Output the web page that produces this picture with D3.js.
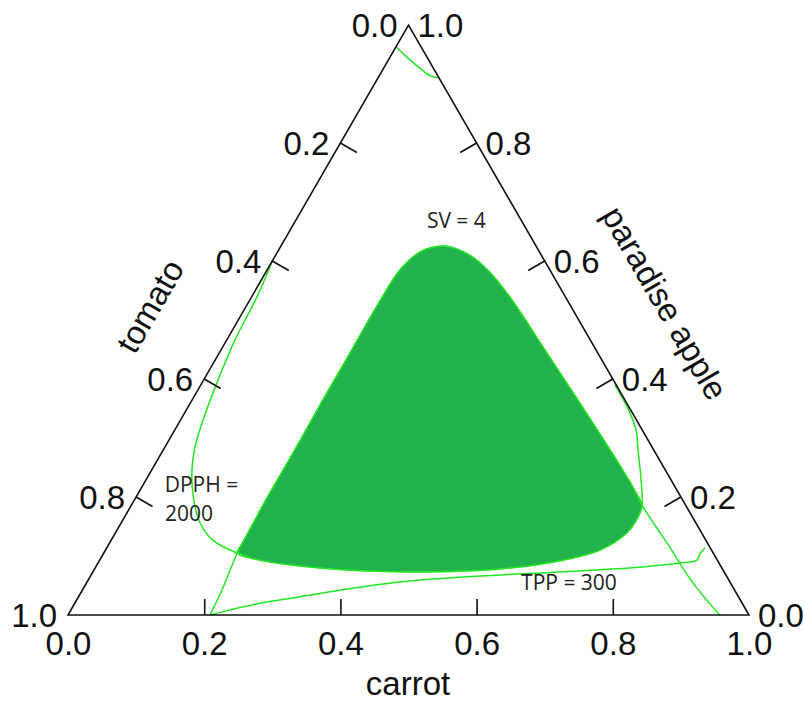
<!DOCTYPE html>
<html>
<head>
<meta charset="utf-8">
<script src="https://cdn.jsdelivr.net/npm/d3@7"></script>
<style>
body { margin: 0; background: #fff; }
</style>
</head>
<body>
<div id="chartDiv"></div>
<script>
// Ternary mixture plot: carrot / tomato / paradise apple
// points are stored as [carrot, paradiseApple], tomato = 1 - carrot - apple

var width = 804;
var height = 702;

var carrotTicks = [0, 0.2, 0.4, 0.6, 0.8, 1.0];
var tomatoTicks = [0, 0.2, 0.4, 0.6, 0.8, 1.0];
var appleTicks = [0, 0.2, 0.4, 0.6, 0.8, 1.0];

// sweet spot (SV >= 4 and DPPH >= 2000), filled
var sweetSpot = [
	[0.244, 0.625], [0.285, 0.610], [0.329, 0.581], [0.385, 0.534], [0.476, 0.449],
	[0.567, 0.364], [0.656, 0.280], [0.718, 0.220], [0.750, 0.186], [0.754, 0.166],
	[0.751, 0.139], [0.726, 0.110], [0.677, 0.092], [0.595, 0.078], [0.480, 0.073],
	[0.376, 0.076], [0.299, 0.083], [0.235, 0.093], [0.196, 0.105], [0.195, 0.125],
	[0.194, 0.160], [0.193, 0.195],
	[0.193, 0.280], [0.192, 0.364], [0.192, 0.449], [0.192, 0.534], [0.195, 0.585],
	[0.209, 0.615], [0.227, 0.624]
];

// SV = 4 contour
var svContour = [
	[0.2085, 0.0], [0.205, 0.042], [0.196, 0.105], [0.195, 0.125], [0.194, 0.160],
	[0.193, 0.195], [0.193, 0.280],
	[0.192, 0.364], [0.192, 0.449], [0.192, 0.534], [0.195, 0.585], [0.209, 0.615],
	[0.227, 0.624], [0.244, 0.625], [0.285, 0.610], [0.329, 0.581], [0.385, 0.534],
	[0.476, 0.449], [0.567, 0.364], [0.656, 0.280], [0.718, 0.220], [0.750, 0.186],
	[0.826, 0.115], [0.891, 0.054], [0.957, 0.0]
];

// DPPH = 2000 contour
var dpphContour = [
	[0.0, 0.600], [0.008, 0.539], [0.012, 0.466], [0.022, 0.393], [0.033, 0.331],
	[0.044, 0.285], [0.059, 0.246], [0.084, 0.200], [0.116, 0.156], [0.149, 0.127],
	[0.196, 0.105], [0.235, 0.093], [0.299, 0.083], [0.376, 0.076], [0.480, 0.073],
	[0.595, 0.078], [0.677, 0.092], [0.726, 0.110], [0.751, 0.139], [0.754, 0.166],
	[0.750, 0.186], [0.727, 0.229], [0.697, 0.280], [0.677, 0.314], [0.649, 0.348],
	[0.608, 0.390]
];

// TPP = 300 contour
var tppContour = [
	[0.2085, 0.0], [0.272, 0.020], [0.316, 0.029], [0.378, 0.042], [0.460, 0.056],
	[0.572, 0.066], [0.686, 0.073], [0.799, 0.081], [0.855, 0.088], [0.877, 0.093],
	[0.876, 0.105], [0.879, 0.114]
];

// small contour near the paradise apple corner
var apexContour = [
	[0.0, 0.963], [0.020, 0.949], [0.053, 0.927], [0.075, 0.914], [0.091, 0.910]
];

var contourLabels = [
	{ text: "SV = 4", c: 0.199, a: 0.656, anchor: "start" },
	{ text: "DPPH =", c: 0.038, a: 0.208, anchor: "start" },
	{ text: "2000", c: 0.063, a: 0.159, anchor: "start" },
	{ text: "TPP = 300", c: 0.785, a: 0.042, anchor: "end" }
];

var fmt = d3.format(".1f");

var xScale = d3.scaleLinear().domain([0, 1]).range([68, 749]);
var yScale = d3.scaleLinear().domain([0, 1]).range([615, 25]);

function px(c, a) { return xScale(c + a / 2); }
function py(c, a) { return yScale(a); }

var svg = d3.select("#chartDiv").append("svg")
	.attr("width", width)
	.attr("height", height);

var lineGen = d3.line()
	.x(function(d) { return px(d[0], d[1]); })
	.y(function(d) { return py(d[0], d[1]); })
	.curve(d3.curveCatmullRom.alpha(0.5));

var areaGen = d3.line()
	.x(function(d) { return px(d[0], d[1]); })
	.y(function(d) { return py(d[0], d[1]); })
	.curve(d3.curveCatmullRomClosed.alpha(0.5));

// filled region
svg.append("path")
	.attr("d", areaGen(sweetSpot))
	.attr("fill", "#22b14c")
	.attr("stroke", "#2ee62e")
	.attr("stroke-width", 1);

// contour lines
[svContour, dpphContour, tppContour, apexContour].forEach(function(c) {
	svg.append("path")
		.attr("d", lineGen(c))
		.attr("fill", "none")
		.attr("stroke", "#22e622")
		.attr("stroke-width", 1.5);
});

// triangle
var corners = [[0, 0], [1, 0], [0, 1]];
svg.append("path")
	.attr("d", "M" + corners.map(function(d) { return px(d[0], d[1]) + "," + py(d[0], d[1]); }).join("L") + "Z")
	.attr("fill", "none")
	.attr("stroke", "#111")
	.attr("stroke-width", 1.6);

// carrot axis (bottom)
var xAxis = d3.axisBottom(xScale)
	.tickValues(carrotTicks)
	.tickSizeInner(-16)
	.tickSizeOuter(0)
	.tickPadding(17)
	.tickFormat(fmt);

var xAxisG = svg.append("g")
	.attr("transform", "translate(0," + yScale(0) + ")")
	.call(xAxis);
xAxisG.select(".domain").remove();
xAxisG.selectAll(".tick line")
	.filter(function(d) { return d == 0 || d == 1; }).remove();
xAxisG.selectAll(".tick line").attr("stroke", "#111").attr("stroke-width", 1.6);
xAxisG.selectAll("text")
	.attr("font-family", "'Liberation Sans', Arial, sans-serif")
	.attr("font-size", 33)
	.attr("fill", "#111");

// tomato axis (left side), tomato = 1 at bottom-left corner
var tickLen = 19;
tomatoTicks.forEach(function(t) {
	var x = px(0, 1 - t), y = py(0, 1 - t);
	if (t > 0 && t < 1) {
		svg.append("line")
			.attr("x1", x).attr("y1", y)
			.attr("x2", x + tickLen * Math.cos(Math.PI / 6))
			.attr("y2", y + tickLen * Math.sin(Math.PI / 6))
			.attr("stroke", "#111").attr("stroke-width", 1.6);
	}
	svg.append("text")
		.attr("x", x - 11).attr("y", y)
		.attr("dy", "0.35em")
		.attr("text-anchor", "end")
		.attr("font-family", "'Liberation Sans', Arial, sans-serif")
		.attr("font-size", 33)
		.attr("fill", "#111")
		.text(fmt(t));
});

// paradise apple axis (right side)
appleTicks.forEach(function(a) {
	var x = px(1 - a, a), y = py(1 - a, a);
	if (a > 0 && a < 1) {
		svg.append("line")
			.attr("x1", x).attr("y1", y)
			.attr("x2", x - tickLen * Math.cos(Math.PI / 6))
			.attr("y2", y + tickLen * Math.sin(Math.PI / 6))
			.attr("stroke", "#111").attr("stroke-width", 1.6);
	}
	svg.append("text")
		.attr("x", x + 9).attr("y", y)
		.attr("dy", "0.35em")
		.attr("text-anchor", "start")
		.attr("font-family", "'Liberation Sans', Arial, sans-serif")
		.attr("font-size", 33)
		.attr("fill", "#111")
		.text(fmt(a));
});

// axis titles
function title(txt, x, y, rot) {
	svg.append("text")
		.attr("transform", "translate(" + x + "," + y + ") rotate(" + rot + ")")
		.attr("text-anchor", "middle")
		.attr("dy", "0.35em")
		.attr("font-family", "'Liberation Sans', Arial, sans-serif")
		.attr("font-size", 33)
		.attr("fill", "#111")
		.text(txt);
}
title("carrot", 408, 683, 0);
title("tomato", 150, 306, -60);
title("paradise apple", 665, 303, 60);

// contour labels
contourLabels.forEach(function(d) {
	svg.append("text")
		.attr("x", px(d.c, d.a))
		.attr("y", py(d.c, d.a))
		.attr("text-anchor", d.anchor)
		.attr("font-family", "'Open Sans', 'Noto Sans', sans-serif")
		.attr("font-size", 21)
		.attr("fill", "#222")
		.text(d.text);
});
</script>
</body>
</html>
